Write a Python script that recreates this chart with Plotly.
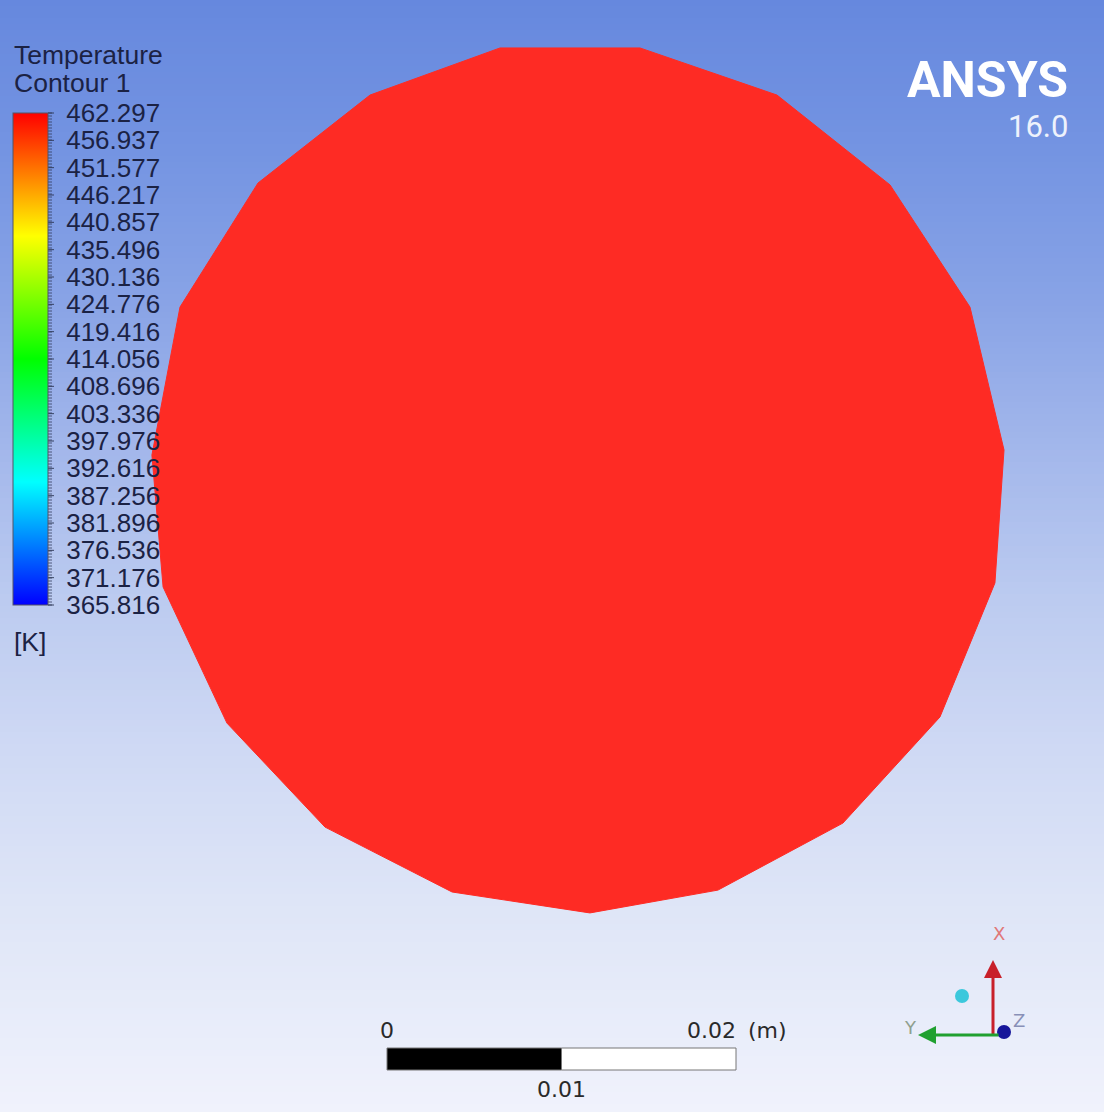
import plotly.graph_objects as go

# ---------------- data ----------------
# outline of the meshed circular face, in mm (centre at 0,0)
boundary_x_mm = [-4.41, 3.61, 11.46, 17.94, 22.52, 24.47, 23.95, 20.80, 15.24, 8.08,
                 0.74, -7.16, -14.44, -20.06, -23.72, -24.36, -22.75, -18.28, -11.86]
boundary_y_mm = [24.76, 24.76, 22.06, 16.91, 9.91, 1.72, -5.90, -13.58, -19.66, -23.50,
                 -24.81, -23.61, -19.89, -13.93, -6.13, 1.43, 9.91, 17.02, 22.06]
face_temperature_K = [462.297]

legend_labels = ["462.297", "456.937", "451.577", "446.217", "440.857", "435.496",
                 "430.136", "424.776", "419.416", "414.056", "408.696", "403.336",
                 "397.976", "392.616", "387.256", "381.896", "376.536", "371.176",
                 "365.816"]
legend_values = [float(s) for s in legend_labels]
legend_min, legend_max = 365.816, 462.297

scale_ticks_m = [0, 0.01, 0.02]
scale_labels = ["0", "0.01", "0.02"]

# ---------------- style / layout ----------------
W, H = 1104, 1112
PX_PER_MM = 17.45
CX, CY = 577.0, 480.0          # pixel position of the face centre
x_range = [(0 - CX) / PX_PER_MM, (W - CX) / PX_PER_MM]
y_range = [(CY - H) / PX_PER_MM, (CY - 0) / PX_PER_MM]

ansys_rainbow = [[0.0, "rgb(0,0,255)"], [0.25, "rgb(0,255,255)"],
                 [0.5, "rgb(0,255,0)"], [0.75, "rgb(255,255,0)"],
                 [1.0, "rgb(255,0,0)"]]

label_font = "Liberation Sans, Arial, sans-serif"
label_color = "#1b2244"

CB_LEFT, CB_THICK, CB_TOP, CB_LEN = 13, 35, 113, 492

fig = go.Figure()

# background gradient (bands)
stops = [(0, (102, 136, 222)), (150, (116, 148, 226)), (300, (136, 163, 230)),
         (450, (163, 183, 235)), (600, (188, 203, 240)), (750, (207, 217, 244)),
         (900, (222, 229, 247)), (1112, (240, 242, 252))]


def grad(y):
    for (y0, c0), (y1, c1) in zip(stops[:-1], stops[1:]):
        if y0 <= y <= y1:
            t = (y - y0) / (y1 - y0)
            return tuple(int(round(a + (b - a) * t)) for a, b in zip(c0, c1))
    return stops[-1][1]


shapes = []
band = 6
for yb in range(0, H, band):
    c = grad(yb + band / 2)
    shapes.append(dict(type="rect", xref="paper", yref="paper", layer="below",
                       x0=0, x1=1, y0=1 - (yb + band + 1) / H, y1=1 - yb / H,
                       line=dict(width=0), fillcolor="rgb(%d,%d,%d)" % c))

# the face
fig.add_trace(go.Scatter(
    x=boundary_x_mm + boundary_x_mm[:1], y=boundary_y_mm + boundary_y_mm[:1],
    mode="lines", fill="toself", fillcolor="#fe2b24",
    line=dict(color="#fe2b24", width=1), hoverinfo="skip", showlegend=False))

# colour legend carried by the face temperature
fig.add_trace(go.Scatter(
    x=[0], y=[0], mode="markers", showlegend=False, hoverinfo="skip",
    marker=dict(size=1, opacity=0, color=face_temperature_K,
                colorscale=ansys_rainbow, cmin=legend_min, cmax=legend_max,
                showscale=True,
                colorbar=dict(
                    x=CB_LEFT / W, xanchor="left", xref="paper",
                    y=1 - CB_TOP / H, yanchor="top", yref="paper",
                    thickness=CB_THICK, len=CB_LEN, lenmode="pixels",
                    xpad=0, ypad=0, outlinewidth=1, outlinecolor="#556",
                    tickmode="array", tickvals=legend_values, ticktext=legend_labels,
                    ticks="outside", ticklen=13, tickwidth=1,
                    tickcolor="rgba(0,0,0,0)",
                    tickfont=dict(family=label_font, size=26, color=label_color),
                    bgcolor="rgba(0,0,0,0)"))))

# fine graduation marks along the right edge of the legend bar
bar_right = (CB_LEFT + CB_THICK) / W
for k in range(0, CB_LEN + 1, 3):
    yk = 1 - (CB_TOP + k) / H
    shapes.append(dict(type="line", xref="paper", yref="paper",
                       x0=bar_right, x1=bar_right + 4 / W, y0=yk, y1=yk,
                       line=dict(color="rgba(45,55,85,0.75)", width=1)))
for i in range(len(legend_values)):
    yk = 1 - (CB_TOP + CB_LEN * (legend_max - legend_values[i]) / (legend_max - legend_min)) / H
    shapes.append(dict(type="line", xref="paper", yref="paper",
                       x0=bar_right, x1=bar_right + 6 / W, y0=yk, y1=yk,
                       line=dict(color="rgba(45,55,85,0.9)", width=1)))

# scale bar
bar_x0 = (387 - CX) / PX_PER_MM
bar_y_top = 1 - 1048 / H
bar_y_bot = 1 - 1070 / H
shapes.append(dict(type="rect", xref="x", yref="paper",
                   x0=bar_x0 + scale_ticks_m[0] * 1000, x1=bar_x0 + scale_ticks_m[1] * 1000,
                   y0=bar_y_bot, y1=bar_y_top, fillcolor="black",
                   line=dict(color="#777", width=1)))
shapes.append(dict(type="rect", xref="x", yref="paper",
                   x0=bar_x0 + scale_ticks_m[1] * 1000, x1=bar_x0 + scale_ticks_m[2] * 1000,
                   y0=bar_y_bot, y1=bar_y_top, fillcolor="white",
                   line=dict(color="#777", width=1)))

# triad dots
for xa, ya, col in [(1004, 1032, "#16169a"), (962, 996, "#3cc8dc")]:
    shapes.append(dict(type="circle", xref="paper", yref="paper",
                       xsizemode="pixel", ysizemode="pixel",
                       xanchor=xa / W, yanchor=1 - ya / H,
                       x0=-7, x1=7, y0=-7, y1=7, fillcolor=col, line=dict(width=0)))

ann = []
# legend title and unit
ann.append(dict(text="Temperature", x=12 / W, y=1 - 55 / H, xanchor="left", yanchor="middle"))
ann.append(dict(text="Contour 1", x=12 / W, y=1 - 83 / H, xanchor="left", yanchor="middle"))
ann.append(dict(text="[K]", x=12 / W, y=1 - 642 / H, xanchor="left", yanchor="middle"))
for a in ann:
    a.update(xref="paper", yref="paper", showarrow=False,
             font=dict(family=label_font, size=26.5, color=label_color))

# ANSYS logo
ann.append(dict(text="<b>ANSYS</b>", x=1070 / W, y=1 - 80 / H, xref="paper", yref="paper",
                xanchor="right", yanchor="middle", showarrow=False,
                font=dict(family="Roboto, sans-serif", size=50, color="white")))
ann.append(dict(text="16.0", x=1070 / W, y=1 - 127 / H, xref="paper", yref="paper",
                xanchor="right", yanchor="middle", showarrow=False,
                font=dict(family="Roboto, sans-serif", size=31, color="#eef2fc")))

# scale bar labels
sfont = dict(family="DejaVu Sans, sans-serif", size=22, color="#2a2a2a")
ann.append(dict(text=scale_labels[0], x=bar_x0 + scale_ticks_m[0] * 1000, y=1 - 1030 / H,
                xref="x", yref="paper", xanchor="center", yanchor="middle",
                showarrow=False, font=sfont))
ann.append(dict(text=scale_labels[2], x=bar_x0 + scale_ticks_m[2] * 1000 + 2 / PX_PER_MM,
                y=1 - 1030 / H,
                xref="x", yref="paper", xanchor="right", yanchor="middle",
                showarrow=False, font=sfont))
ann.append(dict(text="(m)", x=bar_x0 + scale_ticks_m[2] * 1000 + 10 / PX_PER_MM, y=1 - 1030 / H,
                xref="x", yref="paper", xanchor="left", yanchor="middle",
                showarrow=False, font=sfont))
ann.append(dict(text=scale_labels[1], x=bar_x0 + scale_ticks_m[1] * 1000, y=1 - 1089 / H,
                xref="x", yref="paper", xanchor="center", yanchor="middle",
                showarrow=False, font=sfont))

# triad arrows and letters
ann.append(dict(text="", x=993 / W, y=1 - 960 / H, xref="paper", yref="paper",
                ax=0, ay=76, showarrow=True, arrowhead=2, arrowsize=1.2,
                arrowwidth=3, arrowcolor="#c8202a"))
ann.append(dict(text="", x=918 / W, y=1 - 1035 / H, xref="paper", yref="paper",
                ax=82, ay=0, showarrow=True, arrowhead=2, arrowsize=1.2,
                arrowwidth=3, arrowcolor="#20a030"))
for t, xx, yy, col in [("X", 999, 933, "#e07878"), ("Y", 911, 1027, "#8fa08f"),
                       ("Z", 1019, 1020, "#8890b8")]:
    ann.append(dict(text=t, x=xx / W, y=1 - yy / H, xref="paper", yref="paper",
                    showarrow=False, xanchor="center", yanchor="middle",
                    font=dict(family="DejaVu Sans, sans-serif", size=18, color=col)))

fig.update_layout(
    width=W, height=H, margin=dict(l=0, r=0, t=0, b=0),
    paper_bgcolor="rgb(200,212,242)", plot_bgcolor="rgba(0,0,0,0)",
    xaxis=dict(range=x_range, visible=False, fixedrange=True),
    yaxis=dict(range=y_range, visible=False, fixedrange=True),
    shapes=shapes, annotations=ann, showlegend=False)

fig.write_html("out.html", config={"displayModeBar": False},
               post_script="document.body.style.margin='0';document.body.style.overflow='hidden';")
